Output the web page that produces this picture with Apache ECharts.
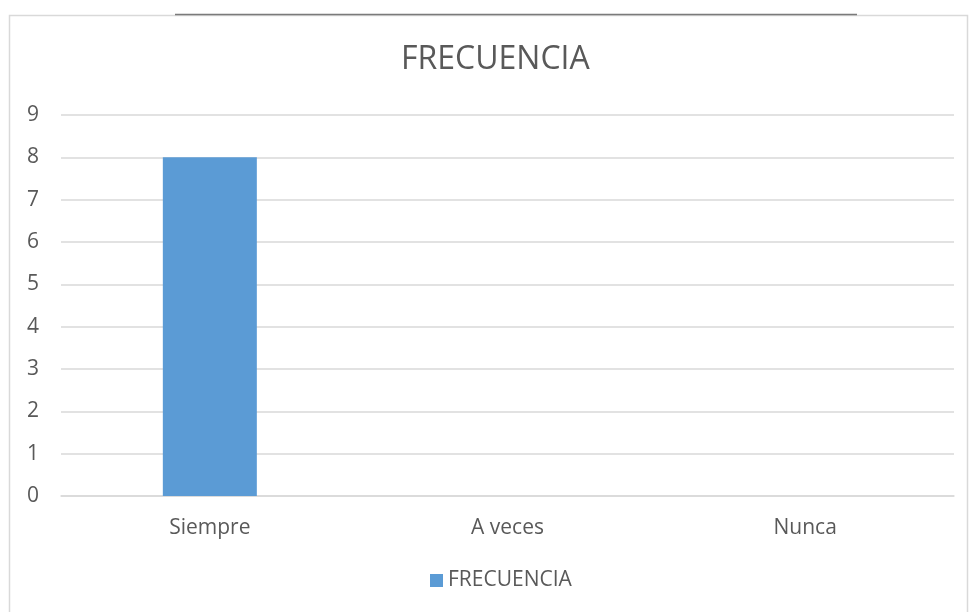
<!DOCTYPE html>
<html><head><meta charset="utf-8">
<script src="https://cdn.jsdelivr.net/npm/echarts@6/dist/echarts.min.js"></script>
<style>html,body{margin:0;padding:0;background:#fff}#c{width:969px;height:612px}</style>
</head><body><div id="c"></div>
<script>
const categories = ['Siempre', 'A veces', 'Nunca'];
const frecuencia = [8, 0, 0];
const seriesName = 'FRECUENCIA';
const chart = echarts.init(document.getElementById('c'));
const font = '"Open Sans", "Liberation Sans", sans-serif';
chart.setOption({
  animation: false,
  title: { text: 'FRECUENCIA', left: 396, top: 39, textStyle: { fontFamily: font, fontSize: 32, fontWeight: 'normal', color: '#595959' } },
  graphic: [
    { type: 'rect', shape: { x: 9.5, y: 15.5, width: 958, height: 620 }, style: { fill: 'none', stroke: '#d9d9d9', lineWidth: 1.5 }, silent: true },
    { type: 'line', shape: { x1: 175, y1: 14.5, x2: 857, y2: 14.5 }, style: { stroke: '#7a7a7a', lineWidth: 1.5 }, silent: true }
  ],
  legend: { bottom: 16, left: 425, itemWidth: 13, itemHeight: 13, itemGap: 6, icon: 'rect', textStyle: { fontFamily: font, fontSize: 21, color: '#595959' }, data: [seriesName] },
  grid: { left: 61, right: 15, top: 115, bottom: 116, containLabel: false },
  xAxis: { type: 'category', data: categories, axisLine: { lineStyle: { color: '#d9d9d9', width: 1.5 } }, axisTick: { show: false }, axisLabel: { fontFamily: font, fontSize: 21, color: '#595959', margin: 22 } },
  yAxis: { type: 'value', min: 0, max: 9, interval: 1, axisLine: { show: false }, axisTick: { show: false }, splitLine: { lineStyle: { color: '#d9d9d9', width: 1.5 } }, axisLabel: { fontFamily: font, fontSize: 21, color: '#595959', margin: 22 } },
  series: [{ name: seriesName, type: 'bar', data: frecuencia, barWidth: 94, itemStyle: { color: '#5B9BD5' } }]
});
</script></body></html>
